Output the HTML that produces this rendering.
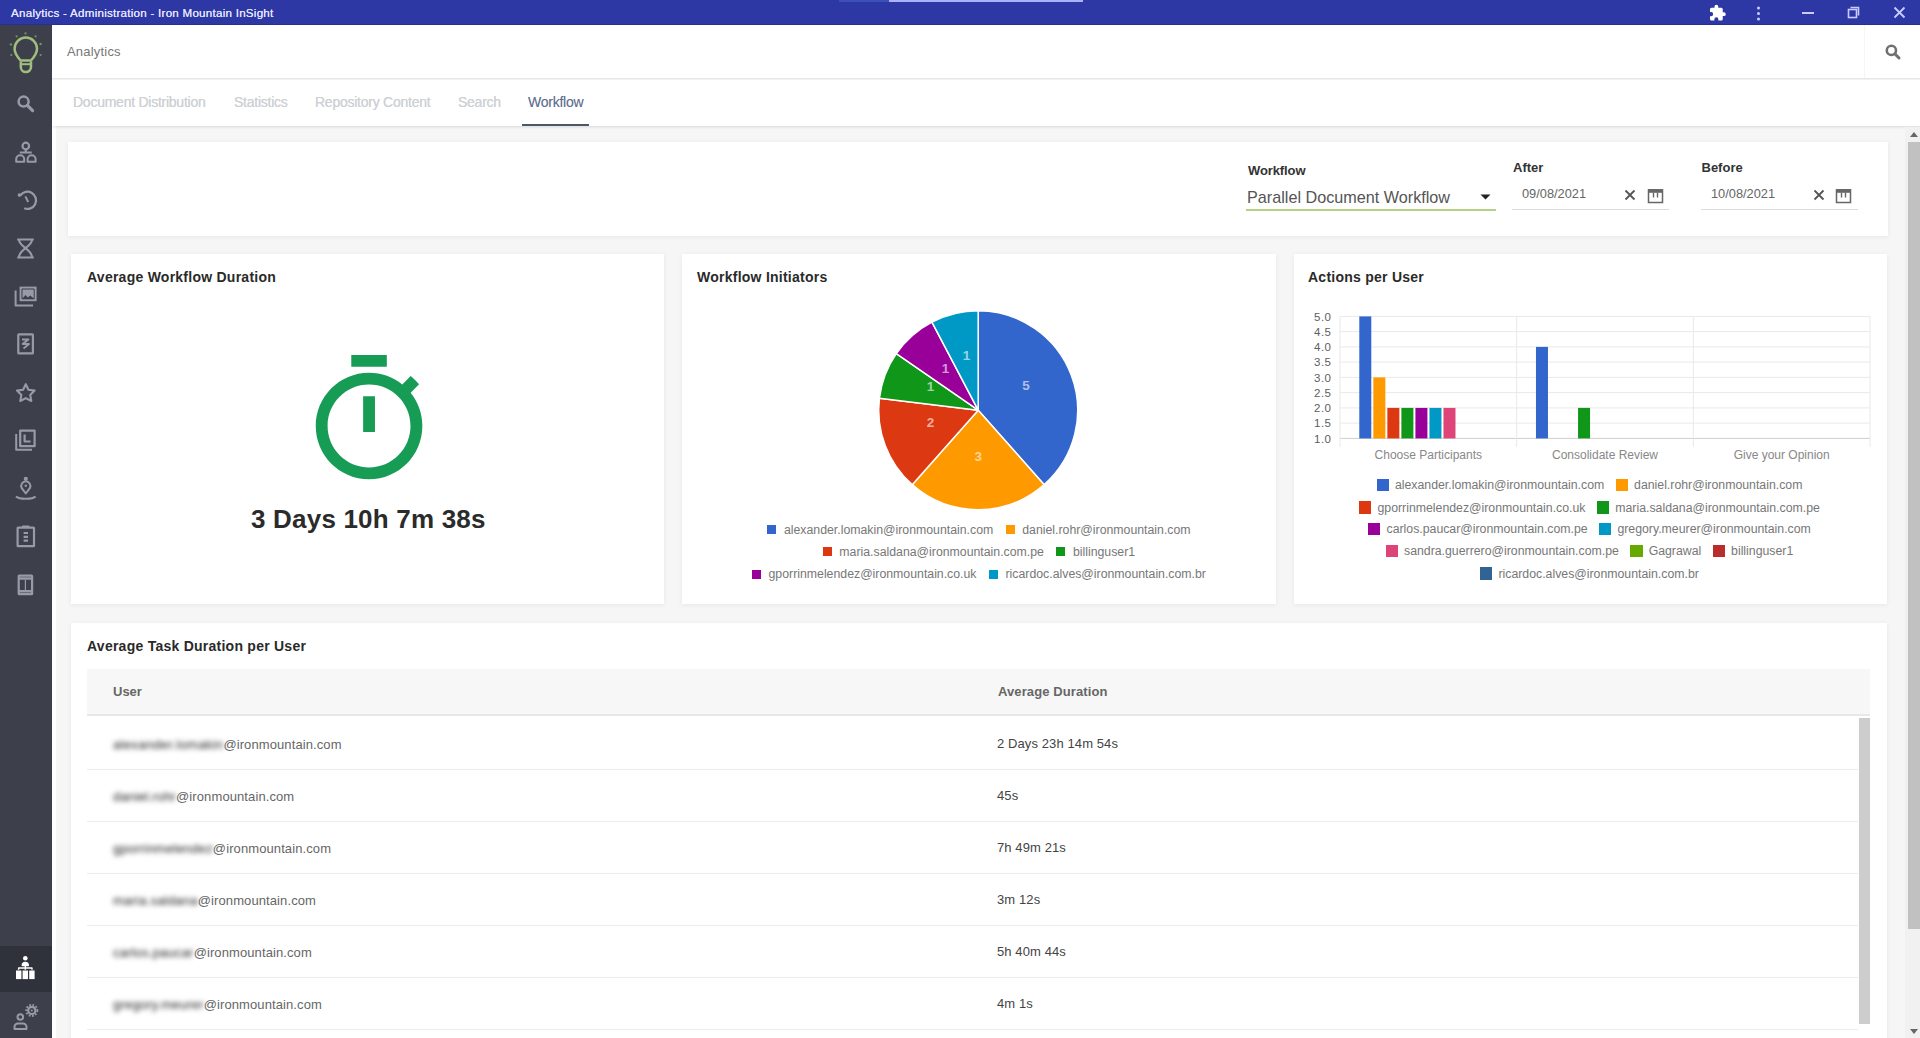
<!DOCTYPE html>
<html><head><meta charset="utf-8"><title>Analytics</title>
<style>
*{box-sizing:border-box;margin:0;padding:0}
html,body{width:1920px;height:1038px;overflow:hidden;background:#f6f6f6;font-family:"Liberation Sans",Arial,sans-serif;color:#333}
.abs{position:absolute}
#titlebar{left:0;top:0;width:1920px;height:25px;background:#2e38a5}
#titlebar .t{left:11px;top:6px;font-size:11.6px;color:#e4e6ff;white-space:nowrap;letter-spacing:0.25px;text-shadow:0 0 0.6px #e4e6ff}
#sidebar{left:0;top:25px;width:52px;height:1013px;background:#3d3f4a}
#header{left:52px;top:25px;width:1868px;height:54px;background:#fff;border-bottom:1px solid #e9e9e9}
#header .h{left:15px;top:19px;font-size:13px;color:#777;letter-spacing:0.2px}
#tabs{left:52px;top:80px;width:1868px;height:46px;background:#fff;box-shadow:0 1px 3px rgba(0,0,0,.12)}
.tab{position:absolute;top:13.8px;font-size:14px;letter-spacing:-0.25px;color:#ced1d5;white-space:nowrap;text-shadow:0 0 0.4px #ced1d5}
.tab.on{color:#5b6e90}
.card{position:absolute;background:#fff;box-shadow:0 1px 5px rgba(0,0,0,.065)}
.ct{position:absolute;font-weight:bold;font-size:14px;letter-spacing:0.25px;color:#2a2a2a;white-space:nowrap}
.lbl{position:absolute;font-weight:bold;font-size:13px;color:#333;white-space:nowrap}
.si{position:absolute}
.lg{position:absolute;white-space:nowrap;display:flex;justify-content:center;align-items:center;height:20px;font-size:12.3px;color:#777}
.lg.pl{left:682px;width:594px}
.lg.bl{left:1294px;width:591px}
.li{display:inline-flex;align-items:center}
.li i{display:inline-block;flex:none}
.tr{position:absolute;left:87px;width:1771px;height:52px;border-bottom:1px solid #ececec}
.tu{position:absolute;left:26px;top:19px;font-size:13px;color:#666;white-space:nowrap;letter-spacing:0.1px}
.bn{filter:blur(2.4px);color:#222}
.td{position:absolute;left:910px;top:18px;font-size:13px;color:#444;white-space:nowrap;letter-spacing:0.1px}
</style></head>
<body>
<div id="titlebar" class="abs"><div class="abs" style="left:839px;top:0;width:50px;height:2px;background:#3b50b8"></div><div class="abs" style="left:889px;top:0;width:194px;height:1.5px;background:#a9b3fb"></div><div class="abs" style="left:0;top:24px;width:1920px;height:1px;background:#262f93"></div><div class="t abs">Analytics - Administration - Iron Mountain InSight</div>
<svg class="abs" style="left:1708px;top:4px" width="19" height="18" viewBox="0 0 24 24" fill="#fff"><path d="M20.5 11H19V7a2 2 0 0 0-2-2h-4V3.5a2.5 2.5 0 0 0-5 0V5H4a2 2 0 0 0-2 2v3.8h1.5a2.7 2.7 0 0 1 0 5.4H2V20a2 2 0 0 0 2 2h3.8v-1.5a2.7 2.7 0 0 1 5.4 0V22H17a2 2 0 0 0 2-2v-4h1.5a2.5 2.5 0 0 0 0-5z"/></svg>
<svg class="abs" style="left:1755px;top:6px" width="7" height="15" viewBox="0 0 7 15" fill="#c8ccff"><circle cx="3.5" cy="2" r="1.5"/><circle cx="3.5" cy="7.5" r="1.5"/><circle cx="3.5" cy="13" r="1.5"/></svg>
<div class="abs" style="left:1802px;top:12px;width:12px;height:1.5px;background:#c8ccff"></div>
<svg class="abs" style="left:1847px;top:6px" width="13" height="13" viewBox="0 0 13 13" fill="none" stroke="#c8ccff" stroke-width="1.6"><rect x="1.5" y="3.5" width="8" height="8"/><path d="M3.5 1.5h8v8"/></svg>
<svg class="abs" style="left:1893px;top:6px" width="13" height="13" viewBox="0 0 13 13" fill="none" stroke="#c8ccff" stroke-width="1.8"><path d="M1.5 1.5l10 10M11.5 1.5l-10 10"/></svg>
</div>
<div class="abs" style="left:52px;top:126px;width:4px;height:912px;background:#fff"></div>
<div id="sidebar" class="abs">
<div class="abs" style="left:0;top:921px;width:52px;height:46px;background:#30323b"></div>
</div>

<svg class="si" style="left:0;top:0" width="52" height="1038" viewBox="0 0 52 1038" fill="none" stroke="#979ba8" stroke-width="2.2" stroke-linejoin="round">
<g stroke="#a2be7e" stroke-width="2.5">
<path d="M20.6,60.5 C17.5,57 14.6,53.5 14.6,48.7 A11.2,11.2 0 0 1 37,48.7 C37,53.5 34.1,57 31,60.5 Z"/>
<path d="M20.8,61.5 v5.5 a5.1,5.1 0 0 0 10.2,0 v-5.5" />
<path d="M21,64.2 h10" stroke-width="2"/>
</g>
<g fill="#86a062" stroke="none" opacity=".85">
<circle cx="25.5" cy="33.4" r="1.1"/><circle cx="16.6" cy="36.3" r="1.1"/><circle cx="35.6" cy="36.3" r="1.1"/>
<circle cx="10.9" cy="44.4" r="1.2"/><circle cx="40.6" cy="44" r="1.2"/><circle cx="11.3" cy="55" r="1.1"/><circle cx="40.6" cy="55" r="1.1"/>
</g>
<circle cx="23.6" cy="101.6" r="5" stroke-width="2.5"/><path d="M27.4,105.4 L32.6,110.6" stroke-width="3.2" stroke-linecap="round"/>
<circle cx="25.8" cy="146" r="3.3"/><path d="M25.8,149.5 v2.5 M19.8,152.5 h12"/>
<path d="M16.2,161.8 v-2.6 a4,4 0 0 1 8,0 v2.6 z M27.6,161.8 v-2.6 a4,4 0 0 1 8,0 v2.6 z" stroke-width="2"/>
<path d="M20.4,195.4 A8.6,8.6 0 1 1 24.2,208.3" stroke-width="2.3"/><circle cx="19.4" cy="195.1" r="1.8" fill="#979ba8" stroke="none"/><path d="M25.4,196.4 L28.2,202" stroke-width="2"/>
<path d="M17.2,239.5 h16.6 M17.2,257.5 h16.6 M19,239.5 C19,247 32,249 32,257.5 M32,239.5 C32,247 19,249 19,257.5" stroke-width="2.1"/>
<path d="M15.6,290.5 v15 h17.5" stroke-width="2"/><rect x="19.6" y="286.6" width="17" height="14.6" fill="#979ba8" stroke="none"/><path d="M22,299 l3.5,-4 2.5,2.5 2.2,-2 4.2,3.5 z" fill="#3d3f4a" stroke="none"/><rect x="22" y="289" width="12.2" height="9.8" fill="none" stroke="#3d3f4a" stroke-width="1"/>
<rect x="18.3" y="334.4" width="14.6" height="19" rx="0.5"/><path d="M22,339.5 h6.5 l-6,4.5 h6.5 l-5.5,4.5" stroke-width="1.8"/>
<path d="M25.8,384.2 l2.7,5.6 6.1,0.8 -4.4,4.3 1.1,6.1 -5.5,-2.9 -5.5,2.9 1.1,-6.1 -4.4,-4.3 6.1,-0.8 z" stroke-width="2.1"/>
<path d="M16.2,434 v15.8 h15.8" stroke-width="2"/><rect x="20.2" y="430.6" width="14.4" height="15.6"/><path d="M24.6,434.5 v7 h6" stroke-width="2.2"/>
<circle cx="25.8" cy="478.8" r="2.1" fill="#979ba8" stroke="none"/><path d="M25.8,493.5 L21.6,487.8 A4.6,4.6 0 1 1 30,487.8 Z" stroke-width="2"/><circle cx="25.8" cy="485.8" r="1.2" fill="#979ba8" stroke="none"/><path d="M16,496.5 C19,499.5 32.6,499.5 35.6,496.5" stroke-width="2.2"/>
<rect x="17.6" y="527.6" width="16.4" height="18.6" rx="0.5"/><path d="M23,527.6 v-1 h5.6 v1" stroke-width="2"/><path d="M23.6,533 h4.4 M23.6,536.8 h4.4 M23.6,540.6 h4.4" stroke-width="2.2"/>
<rect x="18.7" y="575.7" width="13.4" height="18.5" rx="0.5"/><path d="M18.7,578.5 h13.4 M18.7,591.3 h13.4" stroke-width="2.4"/><path d="M25.4,580 v10" stroke-width="1.2"/>
<g fill="#fff" stroke="#fff">
<circle cx="25.3" cy="958.3" r="2.3" stroke="none"/><path d="M22.3,965.5 a3,3 0 0 1 6,0 z" stroke-width="1.4"/>
<path d="M25.3,965 v3 M18.6,969.8 v-1.8 h13.4 v1.8 M25.3,968 v1.8" fill="none" stroke-width="1.4"/>
<rect x="16" y="970.5" width="5.4" height="8.6" stroke="none"/><rect x="22.6" y="970.5" width="5.4" height="8.6" stroke="none"/><rect x="29.2" y="970.5" width="5.4" height="8.6" stroke="none"/>
</g>
<circle cx="20.3" cy="1017" r="2.8" stroke-width="2"/><path d="M14.5,1029 v-2 a3.5,3.5 0 0 1 3.5,-3.5 h5 a3.5,3.5 0 0 1 3.5,3.5 v2 z" stroke-width="2"/>
<circle cx="31.8" cy="1010.4" r="5.6" stroke-width="1.8" stroke-dasharray="1.7 1.6"/><circle cx="31.8" cy="1010.4" r="3.6" stroke-width="2.2"/><circle cx="31.8" cy="1010.4" r="1" fill="#979ba8" stroke="none"/>
</svg>
<div id="header" class="abs"><div class="h abs">Analytics</div>
<div class="abs" style="left:1812px;top:0;width:1px;height:53px;background:#f5f5f5"></div>
<svg class="abs" style="left:1832px;top:17.5px" width="18" height="18" viewBox="0 0 18 18" fill="none" stroke="#707070" stroke-width="2.6"><circle cx="7.4" cy="7.4" r="4.6"/><path d="M10.8 10.8l4.2 4.2" stroke-width="3" stroke-linecap="round"/></svg>
</div>
<div id="tabs" class="abs">
<div class="tab" style="left:21px">Document Distribution</div>
<div class="tab" style="left:182px">Statistics</div>
<div class="tab" style="left:263px">Repository Content</div>
<div class="tab" style="left:406px">Search</div>
<div class="tab on" style="left:476px">Workflow</div>
<div class="abs" style="left:470px;top:44px;width:67px;height:2px;background:#4a5868"></div>
</div>

<div class="card" style="left:68px;top:142px;width:1820px;height:94px"></div>
<div class="lbl" style="left:1248px;top:163.3px;letter-spacing:-0.1px">Workflow</div>
<div class="abs" style="left:1247px;top:187.5px;font-size:16.2px;color:#555;white-space:nowrap">Parallel Document Workflow</div>
<svg class="abs" style="left:1480px;top:194px" width="11" height="6" viewBox="0 0 11 6"><path d="M0.5 0.5h10L5.5 5.5z" fill="#222"/></svg>
<div class="abs" style="left:1246px;top:209px;width:250px;height:2px;background:#b5cf86"></div>
<div class="lbl" style="left:1513px;top:160.4px">After</div>
<div class="abs" style="left:1522px;top:186px;font-size:12.8px;color:#666;white-space:nowrap">09/08/2021</div>
<div class="abs" style="left:1512px;top:209px;width:157px;height:1px;background:#dcdcdc"></div>
<div class="lbl" style="left:1701.5px;top:160.4px">Before</div>
<div class="abs" style="left:1711px;top:186px;font-size:12.8px;color:#666;white-space:nowrap">10/08/2021</div>
<div class="abs" style="left:1701px;top:209px;width:157px;height:1px;background:#dcdcdc"></div>
<svg class="abs" style="left:1624px;top:189px" width="12" height="12" viewBox="0 0 12 12" stroke="#555" stroke-width="1.8"><path d="M1.5 1.5l9 9M10.5 1.5l-9 9"/></svg>
<svg class="abs" style="left:1813px;top:189px" width="12" height="12" viewBox="0 0 12 12" stroke="#555" stroke-width="1.8"><path d="M1.5 1.5l9 9M10.5 1.5l-9 9"/></svg>
<svg class="abs" style="left:1647px;top:188px" width="17" height="16" viewBox="0 0 17 16" fill="none" stroke="#666" stroke-width="1.5"><rect x="1.5" y="1.8" width="14" height="12.7"/><rect x="1.5" y="1.8" width="14" height="3" fill="#666" stroke="none"/><path d="M6.5 4.5v5M10.5 4.5v5" stroke-width="1.4"/></svg>
<svg class="abs" style="left:1835px;top:188px" width="17" height="16" viewBox="0 0 17 16" fill="none" stroke="#666" stroke-width="1.5"><rect x="1.5" y="1.8" width="14" height="12.7"/><rect x="1.5" y="1.8" width="14" height="3" fill="#666" stroke="none"/><path d="M6.5 4.5v5M10.5 4.5v5" stroke-width="1.4"/></svg>

<div class="card" style="left:71px;top:254px;width:593px;height:350px"><div class="ct" style="left:16px;top:15px">Average Workflow Duration</div></div>
<div class="card" style="left:682px;top:254px;width:594px;height:350px"><div class="ct" style="left:15px;top:15px">Workflow Initiators</div></div>
<div class="card" style="left:1294px;top:254px;width:593px;height:350px"><div class="ct" style="left:14px;top:15px">Actions per User</div></div>
<div class="card" style="left:71px;top:623px;width:1816px;height:430px"><div class="ct" style="left:16px;top:15px">Average Task Duration per User</div></div>

<svg class="abs" style="left:297.6px;top:349.4px" width="142.1" height="142.1" viewBox="0 0 24 24" fill="#179c55"><path d="M15 1H9v2h6V1zm-4 13h2V8h-2v6zm8.03-6.61l1.42-1.42c-.43-.51-.9-.99-1.41-1.41l-1.42 1.42C16.07 4.74 14.12 4 12 4c-4.97 0-9 4.03-9 9s4.02 9 9 9 9-4.03 9-9c0-2.12-.74-4.07-1.97-5.61zM12 20c-3.87 0-7-3.13-7-7s3.13-7 7-7 7 3.13 7 7-3.13 7-7 7z"/></svg>
<div class="abs" style="left:251px;top:504px;font-size:26px;font-weight:bold;color:#2b2b2b;white-space:nowrap;letter-spacing:0.2px">3 Days 10h 7m 38s</div>

<svg class="abs" style="left:0;top:0" width="1920" height="1038" font-family="Liberation Sans, Arial, sans-serif">
<path d="M978.2,410.2L978.20,310.70A99.5,99.5 0 0 1 1044.18,484.68Z" fill="#3366cc" stroke="#fff" stroke-width="1.5" stroke-linejoin="round"/>
<path d="M978.2,410.2L1044.18,484.68A99.5,99.5 0 0 1 912.22,484.68Z" fill="#ff9900" stroke="#fff" stroke-width="1.5" stroke-linejoin="round"/>
<path d="M978.2,410.2L912.22,484.68A99.5,99.5 0 0 1 879.43,398.21Z" fill="#dc3912" stroke="#fff" stroke-width="1.5" stroke-linejoin="round"/>
<path d="M978.2,410.2L879.43,398.21A99.5,99.5 0 0 1 896.31,353.68Z" fill="#109618" stroke="#fff" stroke-width="1.5" stroke-linejoin="round"/>
<path d="M978.2,410.2L896.31,353.68A99.5,99.5 0 0 1 931.96,322.10Z" fill="#990099" stroke="#fff" stroke-width="1.5" stroke-linejoin="round"/>
<path d="M978.2,410.2L931.96,322.10A99.5,99.5 0 0 1 978.20,310.70Z" fill="#0099c6" stroke="#fff" stroke-width="1.5" stroke-linejoin="round"/>
<text x="1026" y="390.3" text-anchor="middle" font-size="13.5" fill="#fff" fill-opacity=".6" font-weight="bold">5</text>
<text x="978.2" y="460.6" text-anchor="middle" font-size="13.5" fill="#fff" fill-opacity=".6" font-weight="bold">3</text>
<text x="930.5" y="426.7" text-anchor="middle" font-size="13.5" fill="#fff" fill-opacity=".6" font-weight="bold">2</text>
<text x="930.5" y="390.6" text-anchor="middle" font-size="13.5" fill="#fff" fill-opacity=".6" font-weight="bold">1</text>
<text x="945.4" y="372.6" text-anchor="middle" font-size="13.5" fill="#fff" fill-opacity=".6" font-weight="bold">1</text>
<text x="966.6" y="359.90000000000003" text-anchor="middle" font-size="13.5" fill="#fff" fill-opacity=".6" font-weight="bold">1</text>
<rect x="1340" y="315.9" width="530" height="1" fill="#e9e9e9"/>
<rect x="1340" y="331.1" width="530" height="1" fill="#e9e9e9"/>
<rect x="1340" y="346.4" width="530" height="1" fill="#e9e9e9"/>
<rect x="1340" y="361.6" width="530" height="1" fill="#e9e9e9"/>
<rect x="1340" y="376.9" width="530" height="1" fill="#e9e9e9"/>
<rect x="1340" y="392.1" width="530" height="1" fill="#e9e9e9"/>
<rect x="1340" y="407.4" width="530" height="1" fill="#e9e9e9"/>
<rect x="1340" y="422.6" width="530" height="1" fill="#e9e9e9"/>
<rect x="1340" y="437.9" width="530" height="1" fill="#cfcfcf"/>
<rect x="1339.5" y="316.4" width="1" height="130.6" fill="#e9e9e9"/>
<rect x="1516.2" y="316.4" width="1" height="130.6" fill="#e9e9e9"/>
<rect x="1692.8" y="316.4" width="1" height="130.6" fill="#e9e9e9"/>
<rect x="1869.5" y="316.4" width="1" height="130.6" fill="#e9e9e9"/>
<rect x="1359.30" y="316.40" width="12" height="122.00" fill="#3366cc"/>
<rect x="1373.33" y="377.40" width="12" height="61.00" fill="#ff9900"/>
<rect x="1387.36" y="407.90" width="12" height="30.50" fill="#dc3912"/>
<rect x="1401.39" y="407.90" width="12" height="30.50" fill="#109618"/>
<rect x="1415.42" y="407.90" width="12" height="30.50" fill="#990099"/>
<rect x="1429.45" y="407.90" width="12" height="30.50" fill="#0099c6"/>
<rect x="1443.48" y="407.90" width="12" height="30.50" fill="#dd4477"/>
<rect x="1535.97" y="346.90" width="12" height="91.50" fill="#3366cc"/>
<rect x="1578.06" y="407.90" width="12" height="30.50" fill="#109618"/>
<text x="1331.5" y="320.7" text-anchor="end" font-size="11.5" letter-spacing="0.5" fill="#5e5e5e">5.0</text>
<text x="1331.5" y="335.9" text-anchor="end" font-size="11.5" letter-spacing="0.5" fill="#5e5e5e">4.5</text>
<text x="1331.5" y="351.2" text-anchor="end" font-size="11.5" letter-spacing="0.5" fill="#5e5e5e">4.0</text>
<text x="1331.5" y="366.4" text-anchor="end" font-size="11.5" letter-spacing="0.5" fill="#5e5e5e">3.5</text>
<text x="1331.5" y="381.7" text-anchor="end" font-size="11.5" letter-spacing="0.5" fill="#5e5e5e">3.0</text>
<text x="1331.5" y="396.9" text-anchor="end" font-size="11.5" letter-spacing="0.5" fill="#5e5e5e">2.5</text>
<text x="1331.5" y="412.2" text-anchor="end" font-size="11.5" letter-spacing="0.5" fill="#5e5e5e">2.0</text>
<text x="1331.5" y="427.4" text-anchor="end" font-size="11.5" letter-spacing="0.5" fill="#5e5e5e">1.5</text>
<text x="1331.5" y="442.7" text-anchor="end" font-size="11.5" letter-spacing="0.5" fill="#5e5e5e">1.0</text>
<text x="1428.3" y="459" text-anchor="middle" font-size="12" fill="#888">Choose Participants</text>
<text x="1605.0" y="459" text-anchor="middle" font-size="12" fill="#888">Consolidate Review</text>
<text x="1781.7" y="459" text-anchor="middle" font-size="12" fill="#888">Give your Opinion</text>
</svg>
<div class="lg pl" style="top:519.7px">
<span class="li" style="margin-right:12.5px"><i style="background:#3366cc;width:9px;height:9px;margin-right:7.5px"></i>alexander.lomakin@ironmountain.com</span>
<span class="li" style="margin-right:0px"><i style="background:#ff9900;width:9px;height:9px;margin-right:7.5px"></i>daniel.rohr@ironmountain.com</span>
</div>
<div class="lg pl" style="top:541.7px">
<span class="li" style="margin-right:12.5px"><i style="background:#dc3912;width:9px;height:9px;margin-right:7.5px"></i>maria.saldana@ironmountain.com.pe</span>
<span class="li" style="margin-right:0px"><i style="background:#109618;width:9px;height:9px;margin-right:7.5px"></i>billinguser1</span>
</div>
<div class="lg pl" style="top:564.3px">
<span class="li" style="margin-right:12.5px"><i style="background:#990099;width:9px;height:9px;margin-right:7.5px"></i>gporrinmelendez@ironmountain.co.uk</span>
<span class="li" style="margin-right:0px"><i style="background:#0099c6;width:9px;height:9px;margin-right:7.5px"></i>ricardoc.alves@ironmountain.com.br</span>
</div>
<div class="lg bl" style="top:475px">
<span class="li" style="margin-right:11.5px"><i style="background:#3366cc;width:12.3px;height:12.3px;margin-right:6px"></i>alexander.lomakin@ironmountain.com</span>
<span class="li" style="margin-right:0px"><i style="background:#ff9900;width:12.3px;height:12.3px;margin-right:6px"></i>daniel.rohr@ironmountain.com</span>
</div>
<div class="lg bl" style="top:497.5px">
<span class="li" style="margin-right:11.5px"><i style="background:#dc3912;width:12.3px;height:12.3px;margin-right:6px"></i>gporrinmelendez@ironmountain.co.uk</span>
<span class="li" style="margin-right:0px"><i style="background:#109618;width:12.3px;height:12.3px;margin-right:6px"></i>maria.saldana@ironmountain.com.pe</span>
</div>
<div class="lg bl" style="top:519px">
<span class="li" style="margin-right:11.5px"><i style="background:#990099;width:12.3px;height:12.3px;margin-right:6px"></i>carlos.paucar@ironmountain.com.pe</span>
<span class="li" style="margin-right:0px"><i style="background:#0099c6;width:12.3px;height:12.3px;margin-right:6px"></i>gregory.meurer@ironmountain.com</span>
</div>
<div class="lg bl" style="top:541px">
<span class="li" style="margin-right:11.5px"><i style="background:#dd4477;width:12.3px;height:12.3px;margin-right:6px"></i>sandra.guerrero@ironmountain.com.pe</span>
<span class="li" style="margin-right:11.5px"><i style="background:#66aa00;width:12.3px;height:12.3px;margin-right:6px"></i>Gagrawal</span>
<span class="li" style="margin-right:0px"><i style="background:#b82e2e;width:12.3px;height:12.3px;margin-right:6px"></i>billinguser1</span>
</div>
<div class="lg bl" style="top:563.5px">
<span class="li" style="margin-right:0px"><i style="background:#316395;width:12.3px;height:12.3px;margin-right:6px"></i>ricardoc.alves@ironmountain.com.br</span>
</div>

<div class="abs" style="left:87px;top:669px;width:1783px;height:47px;background:#f7f7f7;border-bottom:2px solid #e8e8e8"></div>
<div class="abs" style="left:113px;top:684px;font-size:13px;font-weight:bold;color:#666">User</div>
<div class="abs" style="left:998px;top:684px;font-size:13px;font-weight:bold;color:#666;letter-spacing:0.1px">Average Duration</div>
<div class="tr" style="top:718px"><div class="tu"><span class="bn" style="letter-spacing:0.33px">alexander.lomakin</span>@ironmountain.com</div><div class="td">2 Days 23h 14m 54s</div></div>
<div class="tr" style="top:770px"><div class="tu"><span class="bn" style="letter-spacing:0.15px">daniel.rohr</span>@ironmountain.com</div><div class="td">45s</div></div>
<div class="tr" style="top:822px"><div class="tu"><span class="bn" style="letter-spacing:0.2px">gporrinmelendez</span>@ironmountain.com</div><div class="td">7h 49m 21s</div></div>
<div class="tr" style="top:874px"><div class="tu"><span class="bn" style="letter-spacing:0.24px">maria.saldana</span>@ironmountain.com</div><div class="td">3m 12s</div></div>
<div class="tr" style="top:926px"><div class="tu"><span class="bn" style="letter-spacing:0.2px">carlos.paucar</span>@ironmountain.com</div><div class="td">5h 40m 44s</div></div>
<div class="tr" style="top:978px"><div class="tu"><span class="bn" style="letter-spacing:0.2px">gregory.meurer</span>@ironmountain.com</div><div class="td">4m 1s</div></div>
<div class="abs" style="left:1859px;top:718px;width:11px;height:306px;background:#cdcdcd"></div>

<div class="abs" style="left:1905px;top:127px;width:15px;height:911px;background:#f1f1f1"></div>
<div class="abs" style="left:1908px;top:142px;width:12px;height:787px;background:#c1c1c1"></div>
<svg class="abs" style="left:1910px;top:132px" width="8" height="5" viewBox="0 0 8 5"><path d="M0 5L4 0 8 5z" fill="#666"/></svg>
<svg class="abs" style="left:1910px;top:1029px" width="8" height="5" viewBox="0 0 8 5"><path d="M0 0L4 5 8 0z" fill="#666"/></svg>
</body></html>
